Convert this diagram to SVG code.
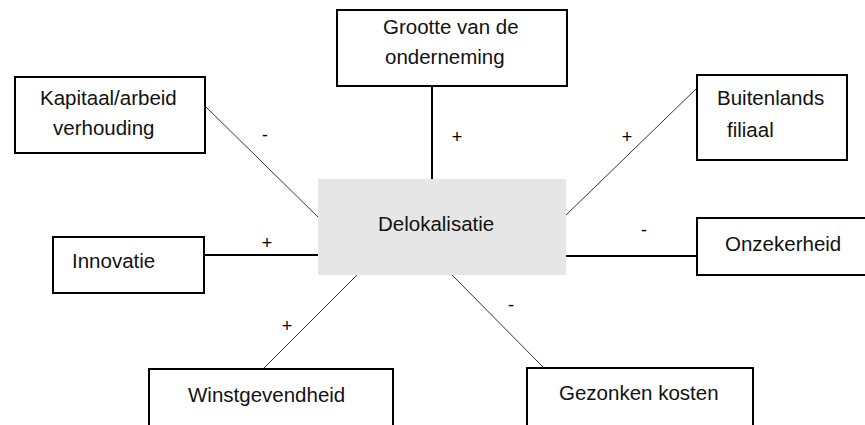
<svg xmlns="http://www.w3.org/2000/svg" width="865" height="425" viewBox="0 0 865 425">
<style>
.box{fill:#fff;stroke:#000;stroke-width:2}
.center{fill:#e6e6e6;stroke:none}
.t{font-family:"Liberation Sans",Arial,sans-serif;font-size:20.5px;fill:#111}
.s{font-family:"Liberation Sans",Arial,sans-serif;font-size:18px;fill:#000;text-anchor:middle}
.thick{stroke:#000;stroke-width:2;fill:none}
.thin{stroke:#333;stroke-width:1;fill:none}
</style>
<rect width="865" height="425" fill="#fff"/>
<g id="connectors">
<line class="thin" x1="205" y1="106" x2="320" y2="219"/>
<line class="thick" x1="432" y1="86" x2="432" y2="179"/>
<line class="thin" x1="697" y1="88" x2="563" y2="218"/>
<line class="thick" x1="566" y1="256" x2="697" y2="256"/>
<line class="thick" x1="204" y1="255" x2="318" y2="255"/>
<line class="thin" x1="357" y1="275" x2="263" y2="369"/>
<line class="thin" x1="452" y1="275" x2="544" y2="368"/>
<text class="s" x="265" y="141">-</text>
<text class="s" x="457" y="143">+</text>
<text class="s" x="627" y="143">+</text>
<text class="s" x="644" y="236">-</text>
<text class="s" x="267" y="249">+</text>
<text class="s" x="287" y="332">+</text>
<text class="s" x="511" y="311">-</text>
</g>
<g id="delokalisatie">
<rect class="center" x="318" y="179" width="248" height="96"/>
<text class="t" x="378" y="231">Delokalisatie</text>
</g>
<g id="kapitaal">
<rect class="box" x="15" y="77" width="190" height="76"/>
<text class="t" x="40" y="105">Kapitaal/arbeid</text>
<text class="t" x="53" y="135">verhouding</text>
</g>
<g id="grootte">
<rect class="box" x="337" y="10" width="230" height="76"/>
<text class="t" x="383" y="34">Grootte van de</text>
<text class="t" x="385" y="64">onderneming</text>
</g>
<g id="buitenlands">
<rect class="box" x="697" y="75" width="150" height="85"/>
<text class="t" x="717" y="105">Buitenlands</text>
<text class="t" x="727" y="137">filiaal</text>
</g>
<g id="onzekerheid">
<rect class="box" x="697" y="218" width="175" height="57"/>
<text class="t" x="725" y="251">Onzekerheid</text>
</g>
<g id="innovatie">
<rect class="box" x="53" y="237" width="151" height="56"/>
<text class="t" x="72" y="268">Innovatie</text>
</g>
<g id="winstgevendheid">
<rect class="box" x="149" y="369" width="244" height="70"/>
<text class="t" x="188" y="402">Winstgevendheid</text>
</g>
<g id="gezonken">
<rect class="box" x="527" y="368" width="226" height="70"/>
<text class="t" x="559" y="400">Gezonken kosten</text>
</g>
</svg>
